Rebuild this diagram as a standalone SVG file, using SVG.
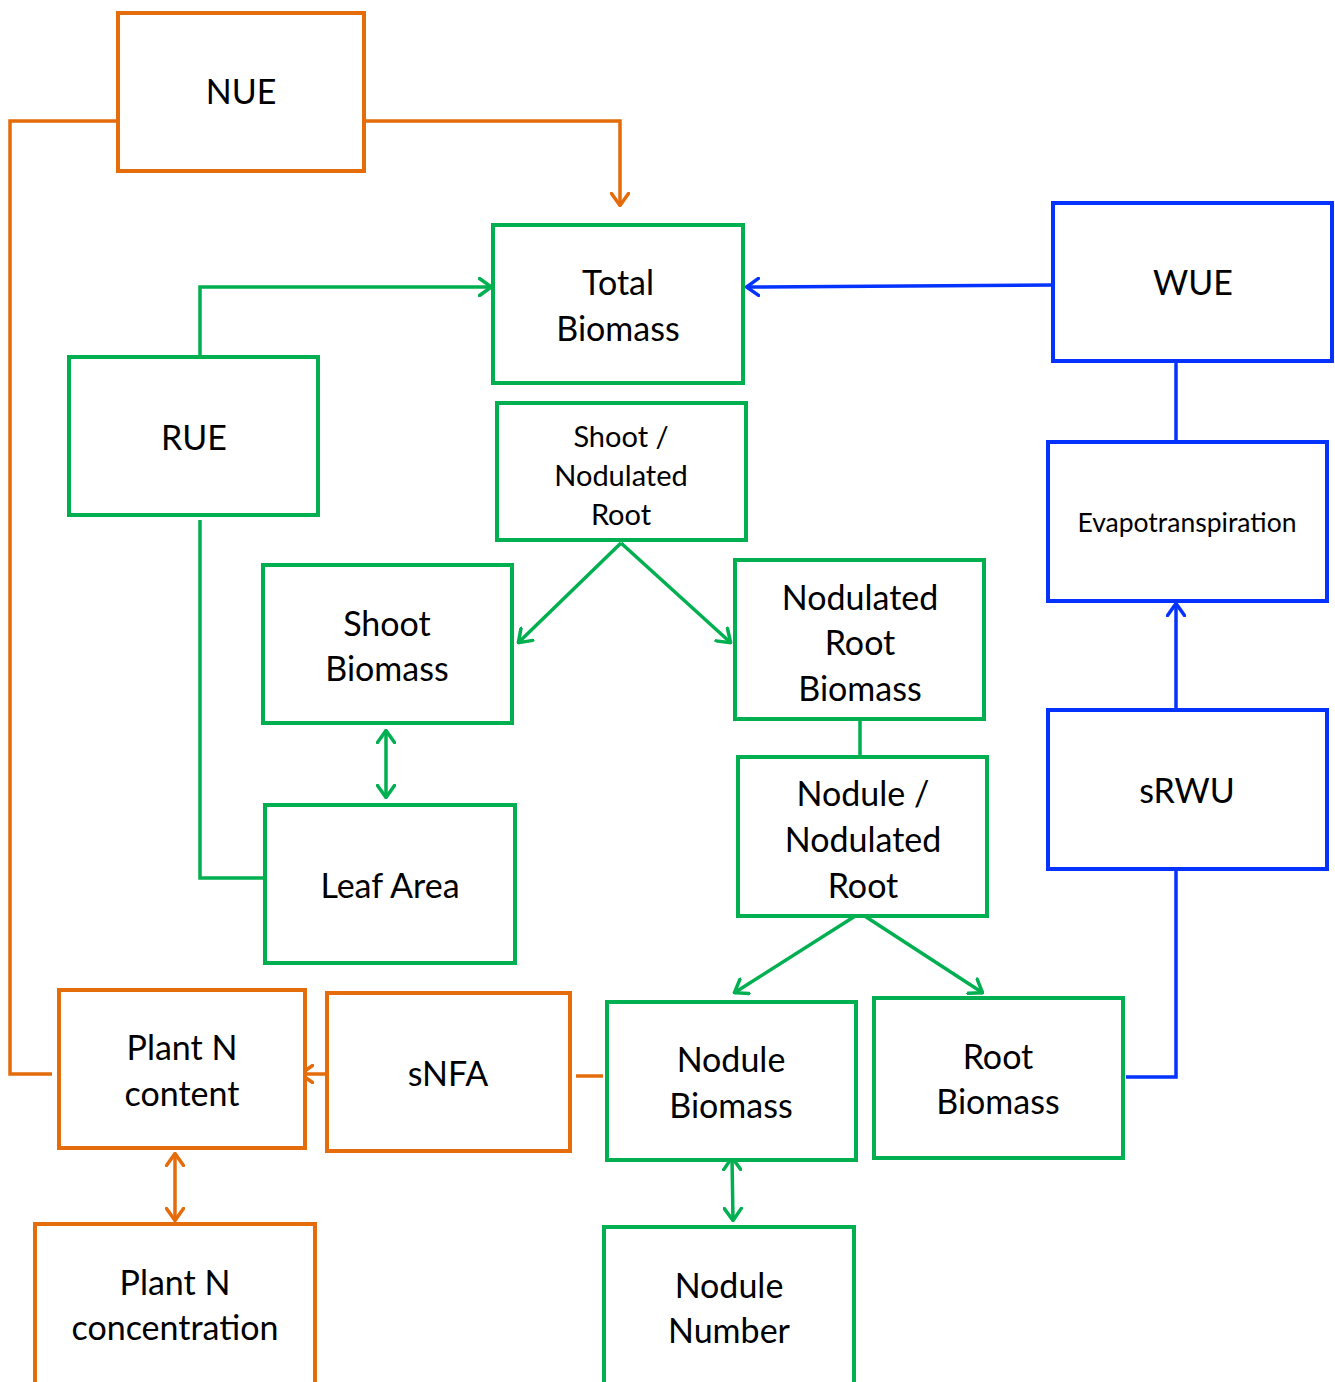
<svg xmlns="http://www.w3.org/2000/svg" width="1335" height="1382" viewBox="0 0 1335 1382">
<style>
.g{fill:#fff;stroke:#00B050;stroke-width:4}
.o{fill:#fff;stroke:#E46C0A;stroke-width:4}
.b{fill:#fff;stroke:#0433FF;stroke-width:4}
.t{font-family:Lato,"Liberation Sans",sans-serif;font-size:34px;fill:#000;text-anchor:middle}
.s{font-size:29px}
.e{font-size:26.5px}
.cg{fill:none;stroke:#00B050;stroke-width:3.5}
.co{fill:none;stroke:#E46C0A;stroke-width:3.5}
.cb{fill:none;stroke:#0433FF;stroke-width:3.5}
</style>
<defs>
<marker id="ag" viewBox="0 0 15 20" refX="14" refY="10" markerWidth="15" markerHeight="20" markerUnits="userSpaceOnUse" orient="auto-start-reverse"><path d="M1.5,1.5 L13.5,10 L1.5,18.5" fill="none" stroke="#00B050" stroke-width="3.5" stroke-linecap="round"/></marker>
<marker id="ao" viewBox="0 0 15 20" refX="14" refY="10" markerWidth="15" markerHeight="20" markerUnits="userSpaceOnUse" orient="auto-start-reverse"><path d="M1.5,1.5 L13.5,10 L1.5,18.5" fill="none" stroke="#E46C0A" stroke-width="3.5" stroke-linecap="round"/></marker>
<marker id="ab" viewBox="0 0 15 20" refX="14" refY="10" markerWidth="15" markerHeight="20" markerUnits="userSpaceOnUse" orient="auto-start-reverse"><path d="M1.5,1.5 L13.5,10 L1.5,18.5" fill="none" stroke="#0433FF" stroke-width="3.5" stroke-linecap="round"/></marker>
</defs>
<g id="connectors">
<path class="co" d="M118,121 H10 V1074 H52"/>
<path class="co" d="M364,121 H620 V206" marker-end="url(#ao)"/>
<path class="cg" d="M200,357 V287 H492" marker-end="url(#ag)"/>
<path class="cb" d="M1053,285 L746,287" marker-end="url(#ab)"/>
<path d="M620,367 V384" stroke="#8064A2" stroke-width="4" fill="none"/>
<path class="cg" d="M621,543 L518,643" marker-end="url(#ag)"/>
<path class="cg" d="M621,543 L731,643" marker-end="url(#ag)"/>
<path class="cg" d="M200,520 V878 H265"/>
<path class="cg" d="M386,730 V798" marker-start="url(#ag)" marker-end="url(#ag)"/>
<path class="cg" d="M860,719 V757"/>
<path class="cg" d="M860,913 L734,993" marker-end="url(#ag)"/>
<path class="cg" d="M860,913 L983,993" marker-end="url(#ag)"/>
<path class="cb" d="M1176,361 V442"/>
<path class="cb" d="M1176,710 V603" marker-end="url(#ab)"/>
<path class="cb" d="M1176,869 V1077 H1126"/>
<path class="co" d="M327,1074 H300" marker-end="url(#ao)"/>
<path class="co" d="M603,1076 H576"/>
<path class="co" d="M175,1153 V1221" marker-start="url(#ao)" marker-end="url(#ao)"/>
<path class="cg" d="M732,1157 L733,1221" marker-start="url(#ag)" marker-end="url(#ag)"/>
</g>
<g id="nue"><rect class="o" x="118" y="13" width="246" height="158"/><text class="t" x="241" y="104">NUE</text></g>
<g id="total-biomass"><rect class="g" x="493" y="225" width="250" height="158"/><text class="t" x="618" y="295">Total</text><text class="t" x="618" y="341">Biomass</text></g>
<g id="wue"><rect class="b" x="1053" y="203" width="279" height="158"/><text class="t" x="1193" y="295">WUE</text></g>
<g id="rue"><rect class="g" x="69" y="357" width="249" height="158"/><text class="t" x="194" y="450">RUE</text></g>
<g id="shoot-nodulated-root"><rect class="g" x="497" y="403" width="249" height="137"/><text class="t s" x="621" y="447">Shoot /</text><text class="t s" x="621" y="486">Nodulated</text><text class="t s" x="621" y="525">Root</text></g>
<g id="evapotranspiration"><rect class="b" x="1048" y="442" width="279" height="159"/><text class="t e" x="1187" y="532">Evapotranspiration</text></g>
<g id="shoot-biomass"><rect class="g" x="263" y="565" width="249" height="158"/><text class="t" x="387" y="636">Shoot</text><text class="t" x="387" y="681">Biomass</text></g>
<g id="nodulated-root-biomass"><rect class="g" x="735" y="560" width="249" height="159"/><text class="t" x="860" y="610">Nodulated</text><text class="t" x="860" y="655">Root</text><text class="t" x="860" y="701">Biomass</text></g>
<g id="nodule-nodulated-root"><rect class="g" x="738" y="757" width="249" height="159"/><text class="t" x="863" y="806">Nodule /</text><text class="t" x="863" y="852">Nodulated</text><text class="t" x="863" y="898">Root</text></g>
<g id="srwu"><rect class="b" x="1048" y="710" width="279" height="159"/><text class="t" x="1187" y="803">sRWU</text></g>
<g id="leaf-area"><rect class="g" x="265" y="805" width="250" height="158"/><text class="t" x="390" y="898">Leaf Area</text></g>
<g id="plant-n-content"><rect class="o" x="59" y="990" width="246" height="158"/><text class="t" x="182" y="1060">Plant N</text><text class="t" x="182" y="1106">content</text></g>
<g id="snfa"><rect class="o" x="327" y="993" width="243" height="158"/><text class="t" x="448" y="1086">sNFA</text></g>
<g id="nodule-biomass"><rect class="g" x="607" y="1002" width="249" height="158"/><text class="t" x="731" y="1072">Nodule</text><text class="t" x="731" y="1118">Biomass</text></g>
<g id="root-biomass"><rect class="g" x="874" y="998" width="249" height="160"/><text class="t" x="998" y="1069">Root</text><text class="t" x="998" y="1114">Biomass</text></g>
<g id="plant-n-concentration"><rect class="o" x="35" y="1224" width="280" height="162"/><text class="t" x="175" y="1295">Plant N</text><text class="t" x="175" y="1340">concentration</text></g>
<g id="nodule-number"><rect class="g" x="604" y="1227" width="250" height="159"/><text class="t" x="729" y="1298">Nodule</text><text class="t" x="729" y="1343">Number</text></g>
</svg>
